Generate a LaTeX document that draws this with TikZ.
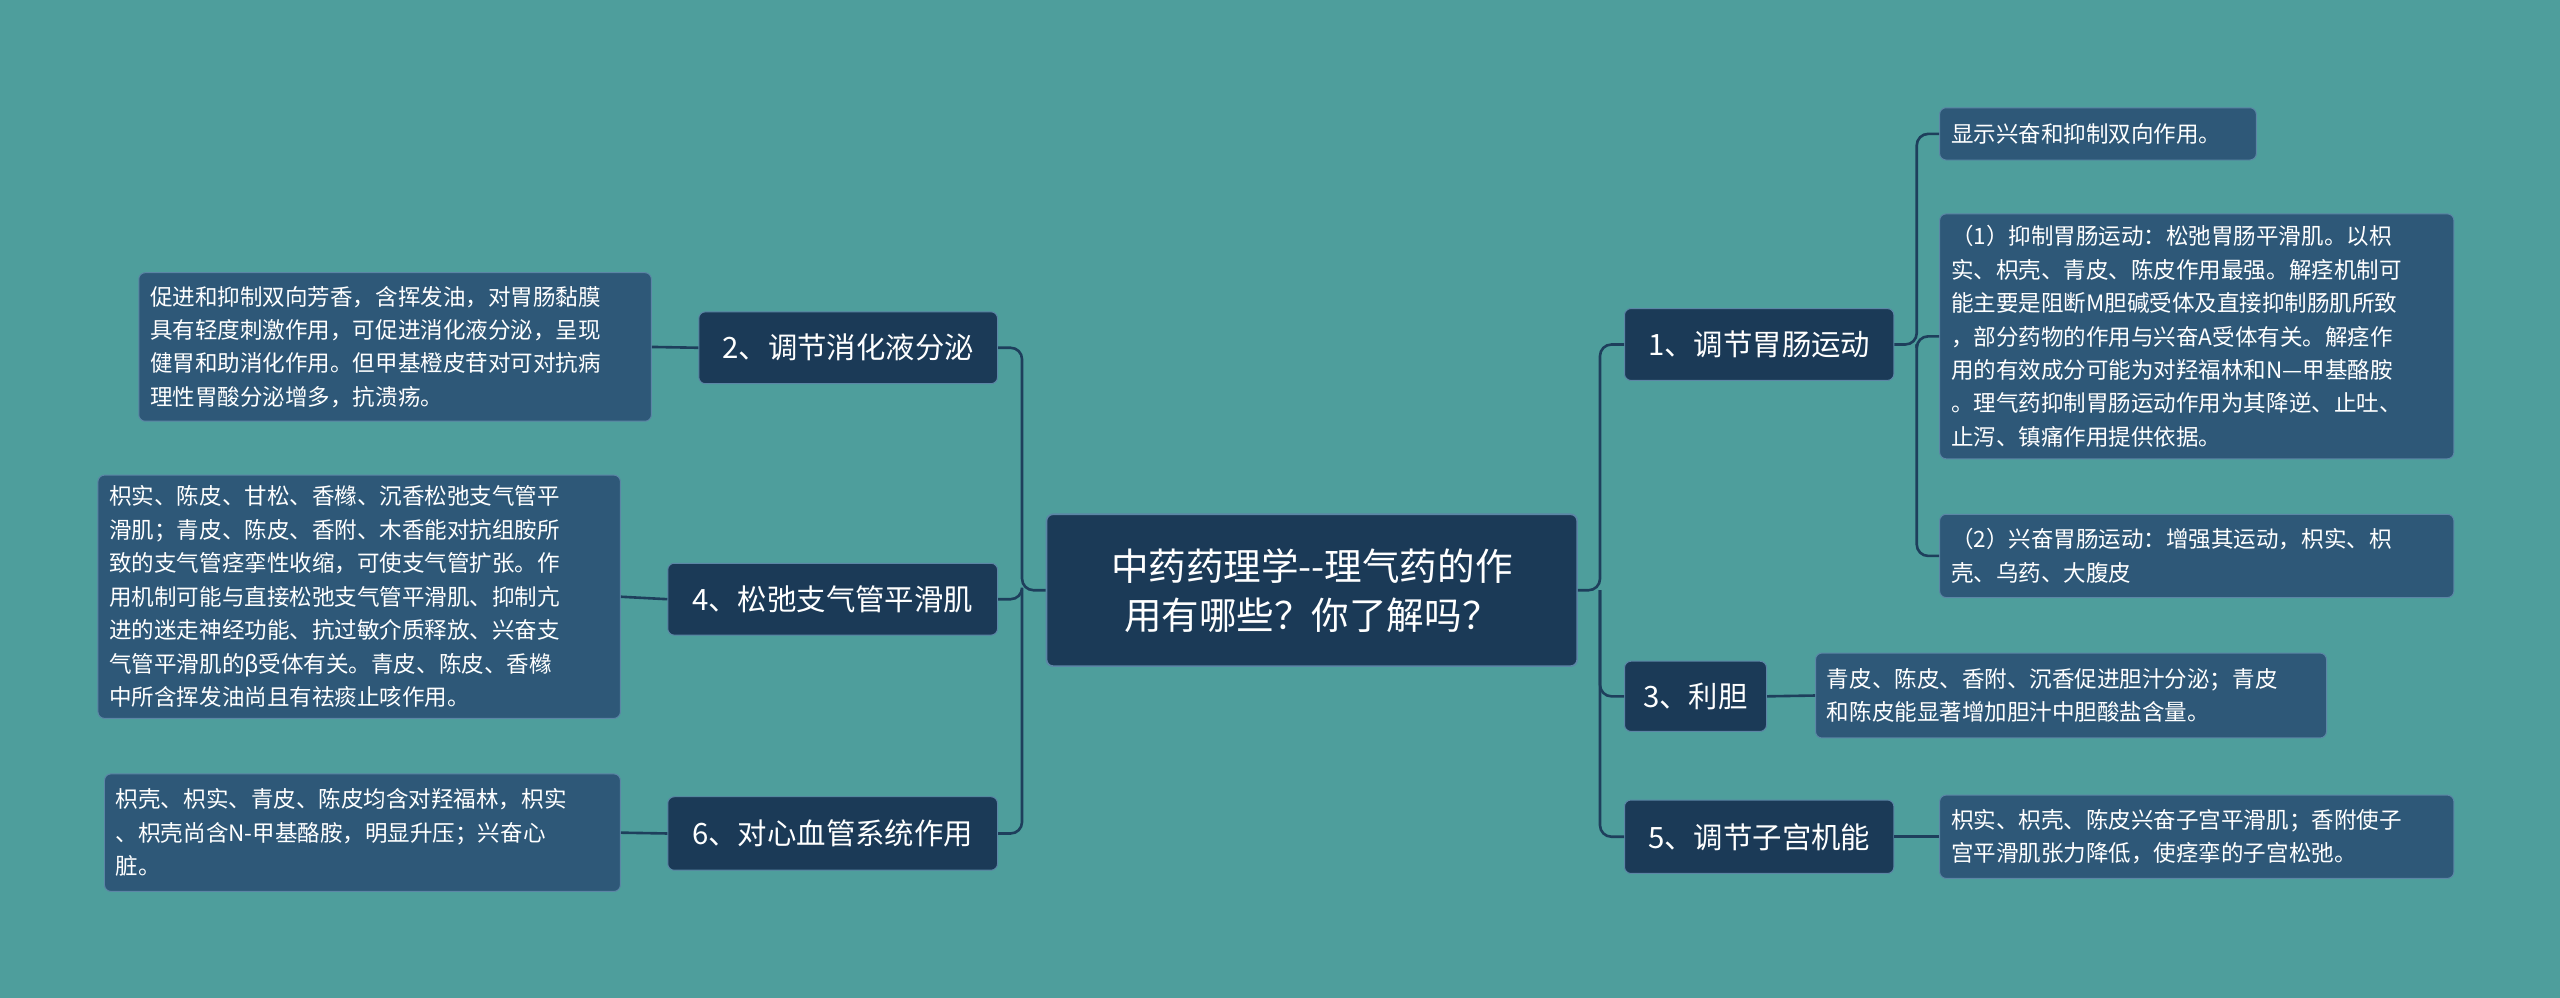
\documentclass[tikz,border=0pt]{standalone}
\usepackage{fontspec}
\setmainfont{Noto Sans CJK SC}
\definecolor{bg}{HTML}{4E9E9C}
\definecolor{dark}{HTML}{1B3A57}
\definecolor{leaffill}{HTML}{2E5878}
\definecolor{leafline}{HTML}{5C86A6}
\definecolor{line}{HTML}{1E3F5C}
\begin{document}
\begin{tikzpicture}[x=1pt,y=-1pt,
  center/.style={draw=leafline,line width=1pt,fill=dark,rounded corners=4pt,text=white,font=\fontsize{23}{30}\selectfont,align=center,inner sep=0pt},
  branch/.style={draw=leafline,line width=0.6pt,fill=dark,rounded corners=4pt,text=white,font=\fontsize{18}{21}\selectfont,inner sep=0pt},
  leaf/.style={draw=leafline,line width=0.6pt,fill=leaffill,rounded corners=4pt,text=white,font=\fontsize{13.8}{20.5}\selectfont,align=left,inner sep=0pt},
  conn/.style={draw=line,line width=1.6pt,rounded corners=7pt}]
\useasboundingbox[fill=bg] (0,0) rectangle (1568,611);
\node[center,minimum width=325,minimum height=93] (c) at (803.5,361.5) {中药药理学{-}{-}理气药的作\\用有哪些？你了解吗？};
\node[branch,minimum width=165,minimum height=44] (b1) at (1077.5,211) {1、调节胃肠运动};
\node[branch,minimum width=87,minimum height=43] (b3) at (1038.5,426.5) {3、利胆};
\node[branch,minimum width=165,minimum height=45] (b5) at (1077.5,512.5) {5、调节子宫机能};
\node[branch,minimum width=183,minimum height=44] (b2) at (519.5,213) {2、调节消化液分泌};
\node[branch,minimum width=202,minimum height=44] (b4) at (510,367) {4、松弛支气管平滑肌};
\node[branch,minimum width=202,minimum height=45] (b6) at (510,510.5) {6、对心血管系统作用};
\node[leaf,minimum width=194,minimum height=32,text width=180] (r1a) at (1285,82) {显示兴奋和抑制双向作用。};
\node[leaf,minimum width=315,minimum height=150,text width=301] (r1b) at (1345.5,206) {（1）抑制胃肠运动：松弛胃肠平滑肌。以枳\\实、枳壳、青皮、陈皮作用最强。解痉机制可\\能主要是阻断M胆碱受体及直接抑制肠肌所致\\，部分药物的作用与兴奋A受体有关。解痉作\\用的有效成分可能为对羟福林和N—甲基酪胺\\。理气药抑制胃肠运动作用为其降逆、止吐、\\止泻、镇痛作用提供依据。};
\node[leaf,minimum width=315,minimum height=51,text width=301] (r1c) at (1345.5,340.5) {（2）兴奋胃肠运动：增强其运动，枳实、枳\\壳、乌药、大腹皮};
\node[leaf,minimum width=313,minimum height=52,text width=299] (r3) at (1268.5,426) {青皮、陈皮、香附、沉香促进胆汁分泌；青皮\\和陈皮能显著增加胆汁中胆酸盐含量。};
\node[leaf,minimum width=315,minimum height=51,text width=301] (r5) at (1345.5,512.5) {枳实、枳壳、陈皮兴奋子宫平滑肌；香附使子\\宫平滑肌张力降低，使痉挛的子宫松弛。};
\node[leaf,minimum width=314,minimum height=91,text width=300] (l2) at (242,212.5) {促进和抑制双向芳香，含挥发油，对胃肠黏膜\\具有轻度刺激作用，可促进消化液分泌，呈现\\健胃和助消化作用。但甲基橙皮苷对可对抗病\\理性胃酸分泌增多，抗溃疡。};
\node[leaf,minimum width=320,minimum height=149,text width=306] (l4) at (220,365.5) {枳实、陈皮、甘松、香橼、沉香松弛支气管平\\滑肌；青皮、陈皮、香附、木香能对抗组胺所\\致的支气管痉挛性收缩，可使支气管扩张。作\\用机制可能与直接松弛支气管平滑肌、抑制亢\\进的迷走神经功能、抗过敏介质释放、兴奋支\\气管平滑肌的β受体有关。青皮、陈皮、香橼\\中所含挥发油尚且有祛痰止咳作用。};
\node[leaf,minimum width=316,minimum height=72,text width=302] (l6) at (222,510) {枳壳、枳实、青皮、陈皮均含对羟福林，枳实\\、枳壳尚含N-甲基酪胺，明显升压；兴奋心\\脏。};
\coordinate (cr) at (980,361.5);
\coordinate (cl) at (626,361.5);
\coordinate (s1) at (1174,211);
\draw[conn] (c.east) -- (cr) |- (b1.west);
\draw[conn] (cr) |- (b3.west);
\draw[conn] (cr) |- (b5.west);
\draw[conn] (c.west) -- (cl) |- (b2.east);
\draw[conn] (cl) |- (b4.east);
\draw[conn] (cl) |- (b6.east);
\draw[conn] (b1.east) -- (s1) |- (r1a.west);
\draw[conn] (s1) |- (r1b.west);
\draw[conn] (s1) |- (r1c.west);
\draw[conn] (b3.east) -- (r3.west);
\draw[conn] (b5.east) -- (r5.west);
\draw[conn] (b2.west) -- (l2.east);
\draw[conn] (b4.west) -- (l4.east);
\draw[conn] (b6.west) -- (l6.east);
\end{tikzpicture}
\end{document}
